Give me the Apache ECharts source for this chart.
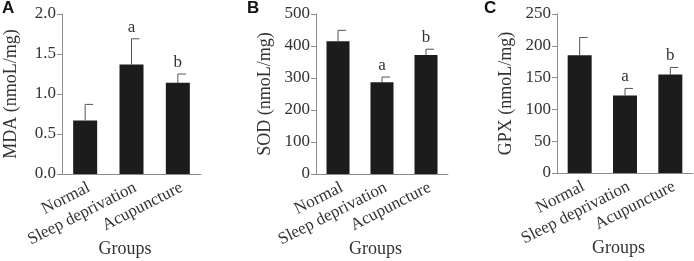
<!DOCTYPE html>
<html lang="en">
<head>
    <meta charset="UTF-8">
    <title>MDA SOD GPX</title>
    <script src="https://cdn.jsdelivr.net/npm/echarts@6/dist/echarts.min.js"></script>
    <style>
        body { margin: 0; background: #fff; }
        #main { width: 694px; height: 261px; }
    </style>
</head>
<body>
<div id="main"></div>
<script type="text/javascript">
    // data
    var groups = ["Normal", "Sleep deprivation", "Acupuncture"];

    var mdaMean = [0.67, 1.37, 1.14];
    var mdaTop  = [0.87, 1.69, 1.25];
    var sodMean = [415, 287, 372];
    var sodTop  = [449, 303, 390];
    var gpxMean = [185, 122, 155];
    var gpxTop  = [213, 133, 166];
    var marks   = ["", "a", "b"];

    var mdaTicks = [0, 2, 0.5];
    var sodTicks = [0, 500, 100];
    var gpxTicks = [0, 250, 50];

    var font = "Liberation Serif";
    var txt = "#333";
    var axisCol = "#8c8c8c";

    function errData(mean, top) {
        var out = [];
        for (var i = 0; i < mean.length; i++) {
            out.push([i, mean[i], top[i]]);
        }
        return out;
    }

    function renderErr(params, api) {
        var base = api.coord([api.value(0), api.value(1)]);
        var top = api.coord([api.value(0), api.value(2)]);
        var st = { stroke: "#555", lineWidth: 1 };
        return {
            type: "group",
            children: [
                { type: "line", shape: { x1: base[0], y1: base[1], x2: top[0], y2: top[1] }, style: st },
                { type: "line", shape: { x1: top[0], y1: top[1], x2: top[0] + 8, y2: top[1] }, style: st },
                { type: "text", style: { text: marks[params.dataIndex], x: top[0], y: top[1] - 3, textAlign: "center", textVerticalAlign: "bottom",
                    font: "17px '" + font + "'", fill: txt } }
            ]
        };
    }

    function yAx(idx, name, t) {
        return {
            gridIndex: idx, type: "value", min: t[0], max: t[1], interval: t[2],
            name: name, nameLocation: "middle", nameGap: 42,
            nameTextStyle: { fontFamily: font, fontSize: 18, color: txt },
            axisLine: { show: true, lineStyle: { color: axisCol } },
            axisTick: { show: true, length: 5, lineStyle: { color: axisCol } },
            axisLabel: { fontFamily: font, fontSize: 17, color: txt, margin: 6,
                formatter: function (v) { return t[2] < 1 ? v.toFixed(1) : v; } },
            splitLine: { show: false }
        };
    }

    function xAx(idx) {
        return {
            gridIndex: idx, type: "category", data: groups,
            name: "Groups", nameLocation: "middle", nameGap: 66, nameMoveOverlap: false,
            nameTextStyle: { fontFamily: font, fontSize: 18, color: txt, padding: [0, 13, 0, 0] },
            axisLine: { lineStyle: { color: axisCol } },
            axisTick: { length: 4, lineStyle: { color: axisCol } },
            axisLabel: { fontFamily: font, fontSize: 17, color: txt, rotate: 27, margin: 5, interval: 0,
                align: "right", verticalAlign: "top" }
        };
    }

    var myChart = echarts.init(document.getElementById("main"));

    var option = {
        animation: false,
        graphic: [
            { type: "text", left: 2, top: 0, style: { text: "A", font: "bold 17px 'Liberation Sans'", fill: "#111" } },
            { type: "text", left: 247, top: 0, style: { text: "B", font: "bold 17px 'Liberation Sans'", fill: "#111" } },
            { type: "text", left: 484, top: 0, style: { text: "C", font: "bold 17px 'Liberation Sans'", fill: "#111" } }
        ],
        grid: [
            { left: 62, width: 139, top: 14, bottom: 87, outerBoundsMode: "none", containLabel: false },
            { left: 316, width: 132, top: 14, bottom: 87, outerBoundsMode: "none", containLabel: false },
            { left: 557, width: 136, top: 14, bottom: 88, outerBoundsMode: "none", containLabel: false }
        ],
        xAxis: [xAx(0), xAx(1), xAx(2)],
        yAxis: [yAx(0, "MDA (nmoL/mg)", mdaTicks), yAx(1, "SOD (nmoL/mg)", sodTicks), yAx(2, "GPX (nmoL/mg)", gpxTicks)],
        series: [
            { type: "bar", xAxisIndex: 0, yAxisIndex: 0, data: mdaMean, barWidth: 24, itemStyle: { color: "#1c1c1c" } },
            { type: "bar", xAxisIndex: 1, yAxisIndex: 1, data: sodMean, barWidth: 23, itemStyle: { color: "#1c1c1c" } },
            { type: "bar", xAxisIndex: 2, yAxisIndex: 2, data: gpxMean, barWidth: 24, itemStyle: { color: "#1c1c1c" } },
            { type: "custom", xAxisIndex: 0, yAxisIndex: 0, data: errData(mdaMean, mdaTop), renderItem: renderErr, z: 1 },
            { type: "custom", xAxisIndex: 1, yAxisIndex: 1, data: errData(sodMean, sodTop), renderItem: renderErr, z: 1 },
            { type: "custom", xAxisIndex: 2, yAxisIndex: 2, data: errData(gpxMean, gpxTop), renderItem: renderErr, z: 1 }
        ]
    };
    myChart.setOption(option);
</script>
</body>
</html>
